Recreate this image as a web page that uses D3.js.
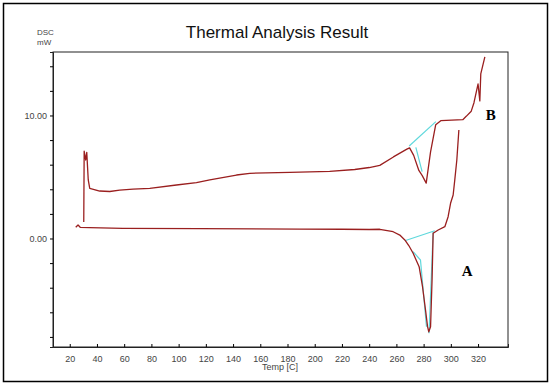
<!DOCTYPE html>
<html>
<head>
<meta charset="utf-8">
<script src="https://cdn.jsdelivr.net/npm/d3@7"></script>
<style>
  body { margin: 0; background: #fff; }
  svg { display: block; }
</style>
</head>
<body>
<svg id="svg" width="552" height="386"></svg>
<script>
// temperature [C] and DSC [mW]
const tempA = [24.4, 26.1, 27.7, 34.7, 59, 115.5, 189, 220, 240, 247.8, 257.6, 262.5, 266.2, 269.1, 272.3, 276.7, 279.2, 281.4, 282.9, 283.8, 285.1, 286.2, 287, 290.7, 295.6, 298, 299.8, 301.7, 302.9, 304.4, 305.9]
const dscA  = [0.91, 1.10, 0.91, 0.88, 0.83, 0.81, 0.77, 0.75, 0.73, 0.75, 0.55, 0.28, -0.12, -0.57, -1.2, -2.29, -3.92, -5.81, -7.17, -7.58, -7.17, -3.37, 0.42, 0.69, 0.96, 1.77, 2.86, 3.54, 4.76, 6.38, 8.82]

const tempB = [30.3, 30.6, 31.7, 32.5, 33.6, 34.7, 42, 49.4, 56.7, 66.5, 78.8, 98.4, 113.1, 122.9, 142.5, 152.3, 181.7, 211, 229.4, 240.1, 247.8, 257.8, 267.7, 269.7, 272.7, 276.5, 279, 281.9, 285.1, 288.9, 292.6, 308.8, 311.3, 315, 317, 320, 321.3, 322, 325]
const dscB  = [1.34, 7.11, 6.38, 7.0, 4.76, 4.08, 3.86, 3.82, 3.94, 4.02, 4.08, 4.35, 4.54, 4.76, 5.16, 5.3, 5.37, 5.45, 5.61, 5.77, 5.94, 6.63, 7.26, 7.37, 6.76, 5.53, 5.11, 4.5, 7.04, 9.25, 9.58, 9.66, 9.93, 10.35, 11.04, 12.56, 11.18, 13.38, 14.76]

// analysis (tangent) lines, pairs of [temp, dsc]
const tangents = [
    [[269.4, 7.52], [289, 9.5]],
    [[274.3, 7.41], [278.9, 5.43]],
    [[266.2, -0.18], [288.2, 0.63]],
    [[287, 0.55], [284, -7.7]],
    [[272.3, -1.07], [277.7, -1.75], [282.1, -7.17]]
]

const xTicks = d3.range(20, 321, 20)
const yMinor = d3.range(-8, 15, 2)
const yLabels = [0, 10]

const svg = d3.select("#svg")
    .attr("font-family", "'Liberation Sans', Arial, sans-serif")

svg.append("rect")
    .attr("x", 3.5).attr("y", 3.5)
    .attr("width", 544).attr("height", 378)
    .attr("fill", "none").attr("stroke", "#000").attr("stroke-width", 1.5)

const pl = 53, pr = 508, pt = 52, pb = 347

const x = d3.scaleLinear().domain([7.7, 342]).range([pl, pr])
const y = d3.scaleLinear().domain([-8.82, 15.16]).range([pb, pt])

svg.append("rect")
    .attr("x", pl).attr("y", pt)
    .attr("width", pr - pl).attr("height", pb - pt)
    .attr("fill", "none").attr("stroke", "#222").attr("stroke-width", 1)

const xAxis = svg.append("g")
    .attr("transform", `translate(0,${pb})`)
    .call(d3.axisBottom(x).tickValues(xTicks).tickSize(-3).tickPadding(6).tickFormat(d3.format("d")))
xAxis.select(".domain").attr("stroke", "#222")
xAxis.selectAll("text").attr("font-size", 9).attr("fill", "#444").attr("dy", "0.95em")

const yAxis = svg.append("g")
    .attr("transform", `translate(${pl},0)`)
    .call(d3.axisLeft(y).tickValues(yMinor).tickSize(3).tickFormat(d => yLabels.includes(d) ? d3.format(".2f")(d) : ""))
yAxis.select(".domain").attr("stroke", "#222")
yAxis.selectAll("text").attr("font-size", 9).attr("fill", "#444")

svg.append("text")
    .attr("x", 277).attr("y", 38)
    .attr("text-anchor", "middle")
    .attr("font-size", 17)
    .attr("fill", "#111")
    .text("Thermal Analysis Result")

svg.append("text").attr("x", 37).attr("y", 35).attr("font-size", 8).attr("fill", "#444").text("DSC")
svg.append("text").attr("x", 37).attr("y", 45).attr("font-size", 8).attr("fill", "#444").text("mW")

svg.append("text")
    .attr("x", 280).attr("y", 370)
    .attr("text-anchor", "middle")
    .attr("font-size", 9)
    .attr("fill", "#444")
    .text("Temp  [C]")

const line = d3.line().x(d => x(d[0])).y(d => y(d[1]))

svg.selectAll(".tan")
    .data(tangents)
    .enter()
    .append("path")
    .attr("class", "tan")
    .attr("d", line)
    .attr("fill", "none")
    .attr("stroke", "#5fd8dc")
    .attr("stroke-width", 1.2)

const curves = [
    tempA.map((t, i) => [t, dscA[i]]),
    tempB.map((t, i) => [t, dscB[i]])
]

svg.selectAll(".curve")
    .data(curves)
    .enter()
    .append("path")
    .attr("class", "curve")
    .attr("d", line)
    .attr("fill", "none")
    .attr("stroke", "#9a1f1f")
    .attr("stroke-width", 1.3)
    .attr("stroke-linejoin", "round")

svg.append("text")
    .attr("x", x(308)).attr("y", y(-3.05))
    .attr("font-family", "'Liberation Serif', 'Times New Roman', serif")
    .attr("font-weight", "bold").attr("font-size", 15)
    .text("A")
svg.append("text")
    .attr("x", x(325.7)).attr("y", y(9.6))
    .attr("font-family", "'Liberation Serif', 'Times New Roman', serif")
    .attr("font-weight", "bold").attr("font-size", 15)
    .text("B")
</script>
</body>
</html>
